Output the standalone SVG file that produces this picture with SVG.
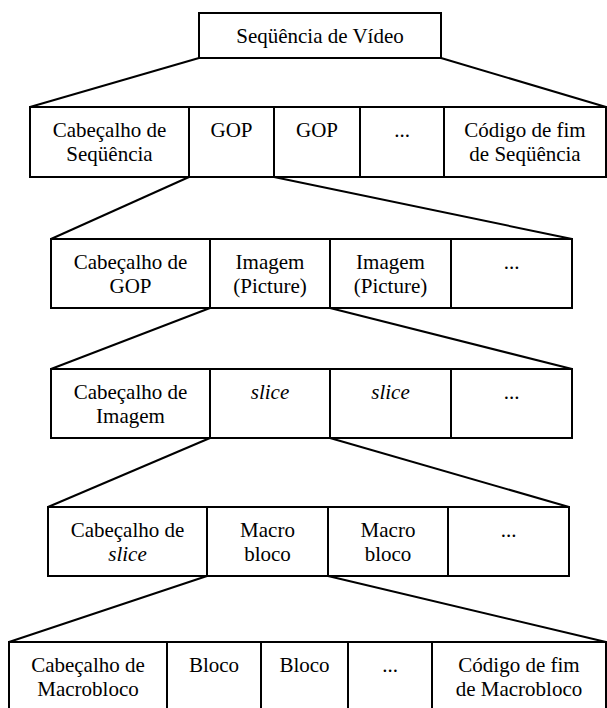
<svg xmlns="http://www.w3.org/2000/svg" width="607" height="708" viewBox="0 0 607 708" font-family="Liberation Serif, Times New Roman, serif">
<style>
rect{fill:#fff;stroke:#000;stroke-width:2}
line{stroke:#000;stroke-width:2}
text{font-size:21px;fill:#000;text-anchor:middle}
.i{font-style:italic}
</style>
<rect x="0" y="0" width="607" height="708" style="stroke:none"/>
<g id="connectors">
<line x1="199" y1="58" x2="30" y2="107"/>
<line x1="441" y1="58" x2="606" y2="107"/>
<line x1="189" y1="177" x2="51" y2="239"/>
<line x1="274" y1="177" x2="572" y2="239"/>
<line x1="210" y1="308" x2="51" y2="369"/>
<line x1="330" y1="308" x2="572" y2="369"/>
<line x1="210" y1="438" x2="48" y2="507"/>
<line x1="330" y1="438" x2="569" y2="507"/>
<line x1="207" y1="576" x2="9" y2="642"/>
<line x1="328" y1="576" x2="606" y2="642"/>
</g>
<g id="seq-video">
<rect x="199" y="13" width="242" height="45"/>
<text x="320" y="43">Seqüência de Vídeo</text>
</g>
<g id="row1">
<g id="cab-seq"><rect x="30" y="107" width="159" height="70"/><text x="109.5" y="137">Cabeçalho de</text><text x="109.5" y="161">Seqüência</text></g>
<g id="gop1"><rect x="189" y="107" width="85" height="70"/><text x="231.5" y="137">GOP</text></g>
<g id="gop2"><rect x="274" y="107" width="86" height="70"/><text x="317" y="137">GOP</text></g>
<g id="dots1"><rect x="360" y="107" width="84" height="70"/><text x="402" y="137">...</text></g>
<g id="fim-seq"><rect x="444" y="107" width="162" height="70"/><text x="525" y="137">Código de fim</text><text x="525" y="161">de Seqüência</text></g>
</g>
<g id="row2">
<g id="cab-gop"><rect x="51" y="239" width="159" height="69"/><text x="130.5" y="269">Cabeçalho de</text><text x="130.5" y="293">GOP</text></g>
<g id="img1"><rect x="210" y="239" width="120" height="69"/><text x="270" y="269">Imagem</text><text x="270" y="293">(Picture)</text></g>
<g id="img2"><rect x="330" y="239" width="121" height="69"/><text x="390.5" y="269">Imagem</text><text x="390.5" y="293">(Picture)</text></g>
<g id="dots2"><rect x="451" y="239" width="121" height="69"/><text x="511.5" y="269">...</text></g>
</g>
<g id="row3">
<g id="cab-img"><rect x="51" y="369" width="159" height="69"/><text x="130.5" y="399">Cabeçalho de</text><text x="130.5" y="423">Imagem</text></g>
<g id="slice1"><rect x="210" y="369" width="120" height="69"/><text class="i" x="270" y="399">slice</text></g>
<g id="slice2"><rect x="330" y="369" width="121" height="69"/><text class="i" x="390.5" y="399">slice</text></g>
<g id="dots3"><rect x="451" y="369" width="121" height="69"/><text x="511.5" y="399">...</text></g>
</g>
<g id="row4">
<g id="cab-slice"><rect x="48" y="507" width="159" height="69"/><text x="127.5" y="537">Cabeçalho de</text><text class="i" x="127.5" y="561">slice</text></g>
<g id="mb1"><rect x="207" y="507" width="121" height="69"/><text x="267.5" y="537">Macro</text><text x="267.5" y="561">bloco</text></g>
<g id="mb2"><rect x="328" y="507" width="120" height="69"/><text x="388" y="537">Macro</text><text x="388" y="561">bloco</text></g>
<g id="dots4"><rect x="448" y="507" width="121" height="69"/><text x="508.5" y="537">...</text></g>
</g>
<g id="row5">
<g id="cab-mb"><rect x="9" y="642" width="158" height="90"/><text x="88" y="672">Cabeçalho de</text><text x="88" y="696">Macrobloco</text></g>
<g id="bloco1"><rect x="167" y="642" width="94" height="90"/><text x="214" y="672">Bloco</text></g>
<g id="bloco2"><rect x="261" y="642" width="87" height="90"/><text x="304.5" y="672">Bloco</text></g>
<g id="dots5"><rect x="348" y="642" width="84" height="90"/><text x="390" y="672">...</text></g>
<g id="fim-mb"><rect x="432" y="642" width="174" height="90"/><text x="519" y="672">Código de fim</text><text x="519" y="696">de Macrobloco</text></g>
</g>
</svg>
